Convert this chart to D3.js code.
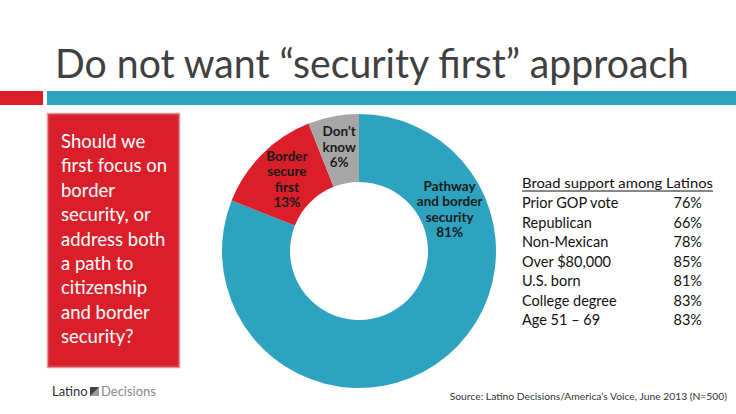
<!DOCTYPE html>
<html><head><meta charset="utf-8">
<script src="https://cdn.jsdelivr.net/npm/d3@7"></script>
<style>body{margin:0;background:#fff}svg{display:block}</style>
</head><body>
<svg id="c" width="736" height="414"></svg>
<script>
const categories = ["Pathway and border security", "Border secure first", "Don't know"];
const labelLines = [["Pathway","and border","security"],["Border","secure","first"],["Don\u2019t","know"]];
const values = [81, 13, 6];
const groups = ["Prior GOP vote","Republican","Non-Mexican","Over $80,000","U.S. born","College degree","Age 51 \u2013 69"];
const groupValues = [76, 66, 78, 85, 81, 83, 83];
const questionLines = ["Should we","first focus on","border","security, or","address both","a path to","citizenship","and border","security?"];

const colors = ["#2ea3c0", "#da1f2b", "#a6a6a6"];
const F = "Lato, 'Open Sans', sans-serif";
const svg = d3.select("#c");

// title
svg.append("text").attr("x",55).attr("y",78).attr("font-family",F).attr("font-size",40)
  .attr("fill","#404040").attr("textLength",634).attr("lengthAdjust","spacingAndGlyphs")
  .text("Do not want \u201csecurity first\u201d approach");
svg.append("rect").attr("x",0).attr("y",91).attr("width",43).attr("height",14).attr("fill","#da1f2b");
svg.append("rect").attr("x",47).attr("y",91).attr("width",689).attr("height",14).attr("fill","#2ea3c0");

// question box
svg.append("rect").attr("x",47.5).attr("y",113.5).attr("width",132).attr("height",254)
  .attr("fill","#da1f2b").attr("stroke","#e9959a").attr("stroke-width",1.5);
svg.append("rect").attr("x",49.5).attr("y",115.5).attr("width",128).attr("height",250)
  .attr("fill","none").attr("stroke","#c23a40").attr("stroke-width",0.8);
svg.append("g").selectAll("text").data(questionLines).join("text")
  .attr("x",61).attr("y",(d,i)=>148+i*24.4).attr("font-family",F).attr("font-size",18.5)
  .attr("fill","#fff").text(d=>d);

// donut
const cx=359, cy=251, R=137, r=69;
const pie = d3.pie().sort(null).value(d=>d)(values);
const arc = d3.arc().innerRadius(r).outerRadius(R);
const g = svg.append("g").attr("transform",`translate(${cx},${cy})`);
g.selectAll("path").data(pie).join("path").attr("d",arc).attr("fill",(d,i)=>colors[i]);

const labelRadius = [100, 102, 106];
pie.forEach((d,i)=>{
  const rr = labelRadius[i];
  let [x,y] = d3.arc().innerRadius(rr).outerRadius(rr).centroid(d);
  if(i===0){ const a=65*Math.PI/180; x=rr*Math.sin(a); y=-rr*Math.cos(a); }
  const lines = labelLines[i].concat([values[i]+"%"]);
  const lh = 15.5;
  const t = g.append("text").attr("font-family",F).attr("font-weight","bold").attr("font-size",13.5)
    .attr("fill","#1a1a1a").attr("text-anchor","middle");
  lines.forEach((s,k)=>{
    t.append("tspan").attr("x",x).attr("y",y+(k-(lines.length-1)/2)*lh+5).text(s);
  });
});

// table
const tx=522;
svg.append("text").attr("x",tx).attr("y",188).attr("font-family",F).attr("font-size",14)
  .attr("fill","#111").attr("textLength",191).attr("lengthAdjust","spacingAndGlyphs").text("Broad support among Latinos");
svg.append("line").attr("x1",tx).attr("x2",713).attr("y1",191).attr("y2",191).attr("stroke","#111").attr("stroke-width",1);
const rowY = d3.scalePoint().domain(groups).range([208,325]);
svg.append("g").selectAll("text").data(groups).join("text")
  .attr("x",tx).attr("y",d=>rowY(d)).attr("font-family",F).attr("font-size",14.5).attr("fill","#111").text(d=>d);
svg.append("g").selectAll("text").data(groupValues).join("text")
  .attr("x",702).attr("y",(d,i)=>rowY(groups[i])).attr("text-anchor","end")
  .attr("font-family",F).attr("font-size",14.5).attr("fill","#111").text(d=>d+"%");

// footer
svg.append("text").attr("x",52).attr("y",396).attr("font-family",F).attr("font-size",13).attr("fill","#333").text("Latino");
svg.append("path").attr("d","M90,387 h9 v9 h-9 z").attr("fill","#444");
svg.append("path").attr("d","M90,396 L99,387 v9 z").attr("fill","#999");
svg.append("text").attr("x",101).attr("y",396).attr("font-family",F).attr("font-size",13).attr("fill","#8a8a8a").text("Decisions");
svg.append("text").attr("x",727).attr("y",400).attr("text-anchor","end").attr("font-family",F).attr("font-size",10.3)
  .attr("fill","#333")
  .text("Source: Latino Decisions/America\u2019s Voice, June 2013 (N=500)");
</script>
</body></html>
